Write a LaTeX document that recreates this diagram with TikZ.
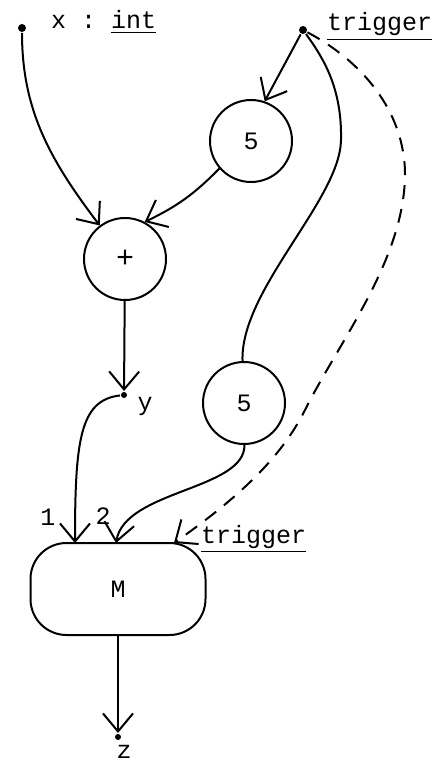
\documentclass[tikz,border=0pt]{standalone}
\usepackage{fontspec}
\setmonofont{Liberation Mono}
\usepackage{tikz}
\usetikzlibrary{arrows.meta}

\tikzset{
  port/.style={circle,fill,inner sep=0pt,minimum size=4pt},
  op/.style={circle,draw,minimum size=41pt,inner sep=0pt},
  flow/.style={-{Straight Barb[length=9pt,width=15pt]}},
  lbl/.style={inner sep=0pt}
}

\begin{document}
\begin{tikzpicture}[x=0.5pt,y=0.5pt,line width=1pt,
    font=\ttfamily\fontsize{12.5}{14}\selectfont]
  \useasboundingbox (0,0) rectangle (445,-764);
  % inputs
  \node[port] (x) at (22,-28) {};
  \node[port] (trig) at (303,-30) {};
  \node[lbl,anchor=base west] (xlbl) at (50,-29) {x : \underline{int}};
  \node[lbl,anchor=base west] (triglbl) at (326,-31) {\underline{trigger}};
  % operators
  \node[op] (top5) at (251,-141) {5};
  \node[op,font=\ttfamily\fontsize{15}{16}\selectfont] (plus) at (125,-259) {+};
  \node[port,minimum size=3pt] (y) at (124,-395) {};
  \node[lbl] (ylbl) at (145,-406) {y};
  \node[op] (bot5) at (244,-403) {5};
  \node[draw,rounded corners=18pt,minimum width=87.5pt,minimum height=46pt] (M) at (118,-589) {\raisebox{-4pt}{M}};
  \coordinate (m1) at (75,-543);
  \coordinate (m2) at (116,-543);
  \coordinate (m3) at (174,-543);
  \node[lbl] (l1) at (48,-517) {1};
  \node[lbl] (l2) at (103,-516) {2};
  \node[lbl,anchor=base west] (mtrig) at (200,-543) {\underline{trigger}};
  \node[port,minimum size=3pt] (z) at (118,-737) {};
  \node[lbl] (zlbl) at (124,-752) {z};
  % arcs
  \draw[flow] (x) .. controls (22,-110) and (50,-160) .. (plus.127);
  \draw[flow] (trig) -- (top5.71);
  \draw[flow] (top5.221) to[bend left=10] (plus.62);
  \draw[flow] (plus) -- (y);
  \draw[flow] (y) .. controls (80,-400) and (75,-440) .. (m1);
  \draw (trig) .. controls (325,-60) and (342,-90) .. (341,-140)
    .. controls (340,-200) and (240,-290) .. (bot5);
  \draw[flow] (bot5) .. controls (245,-490) and (125,-490) .. (m2);
  \draw[flow,dash pattern=on 7pt off 5pt] (trig) .. controls (360,-60) and (405,-110) .. (405,-175)
    .. controls (404,-260) and (340,-340) .. (305,-410)
    .. controls (280,-460) and (235,-500) .. (m3);
  \draw[flow] (M) -- (z);
\end{tikzpicture}
\end{document}
